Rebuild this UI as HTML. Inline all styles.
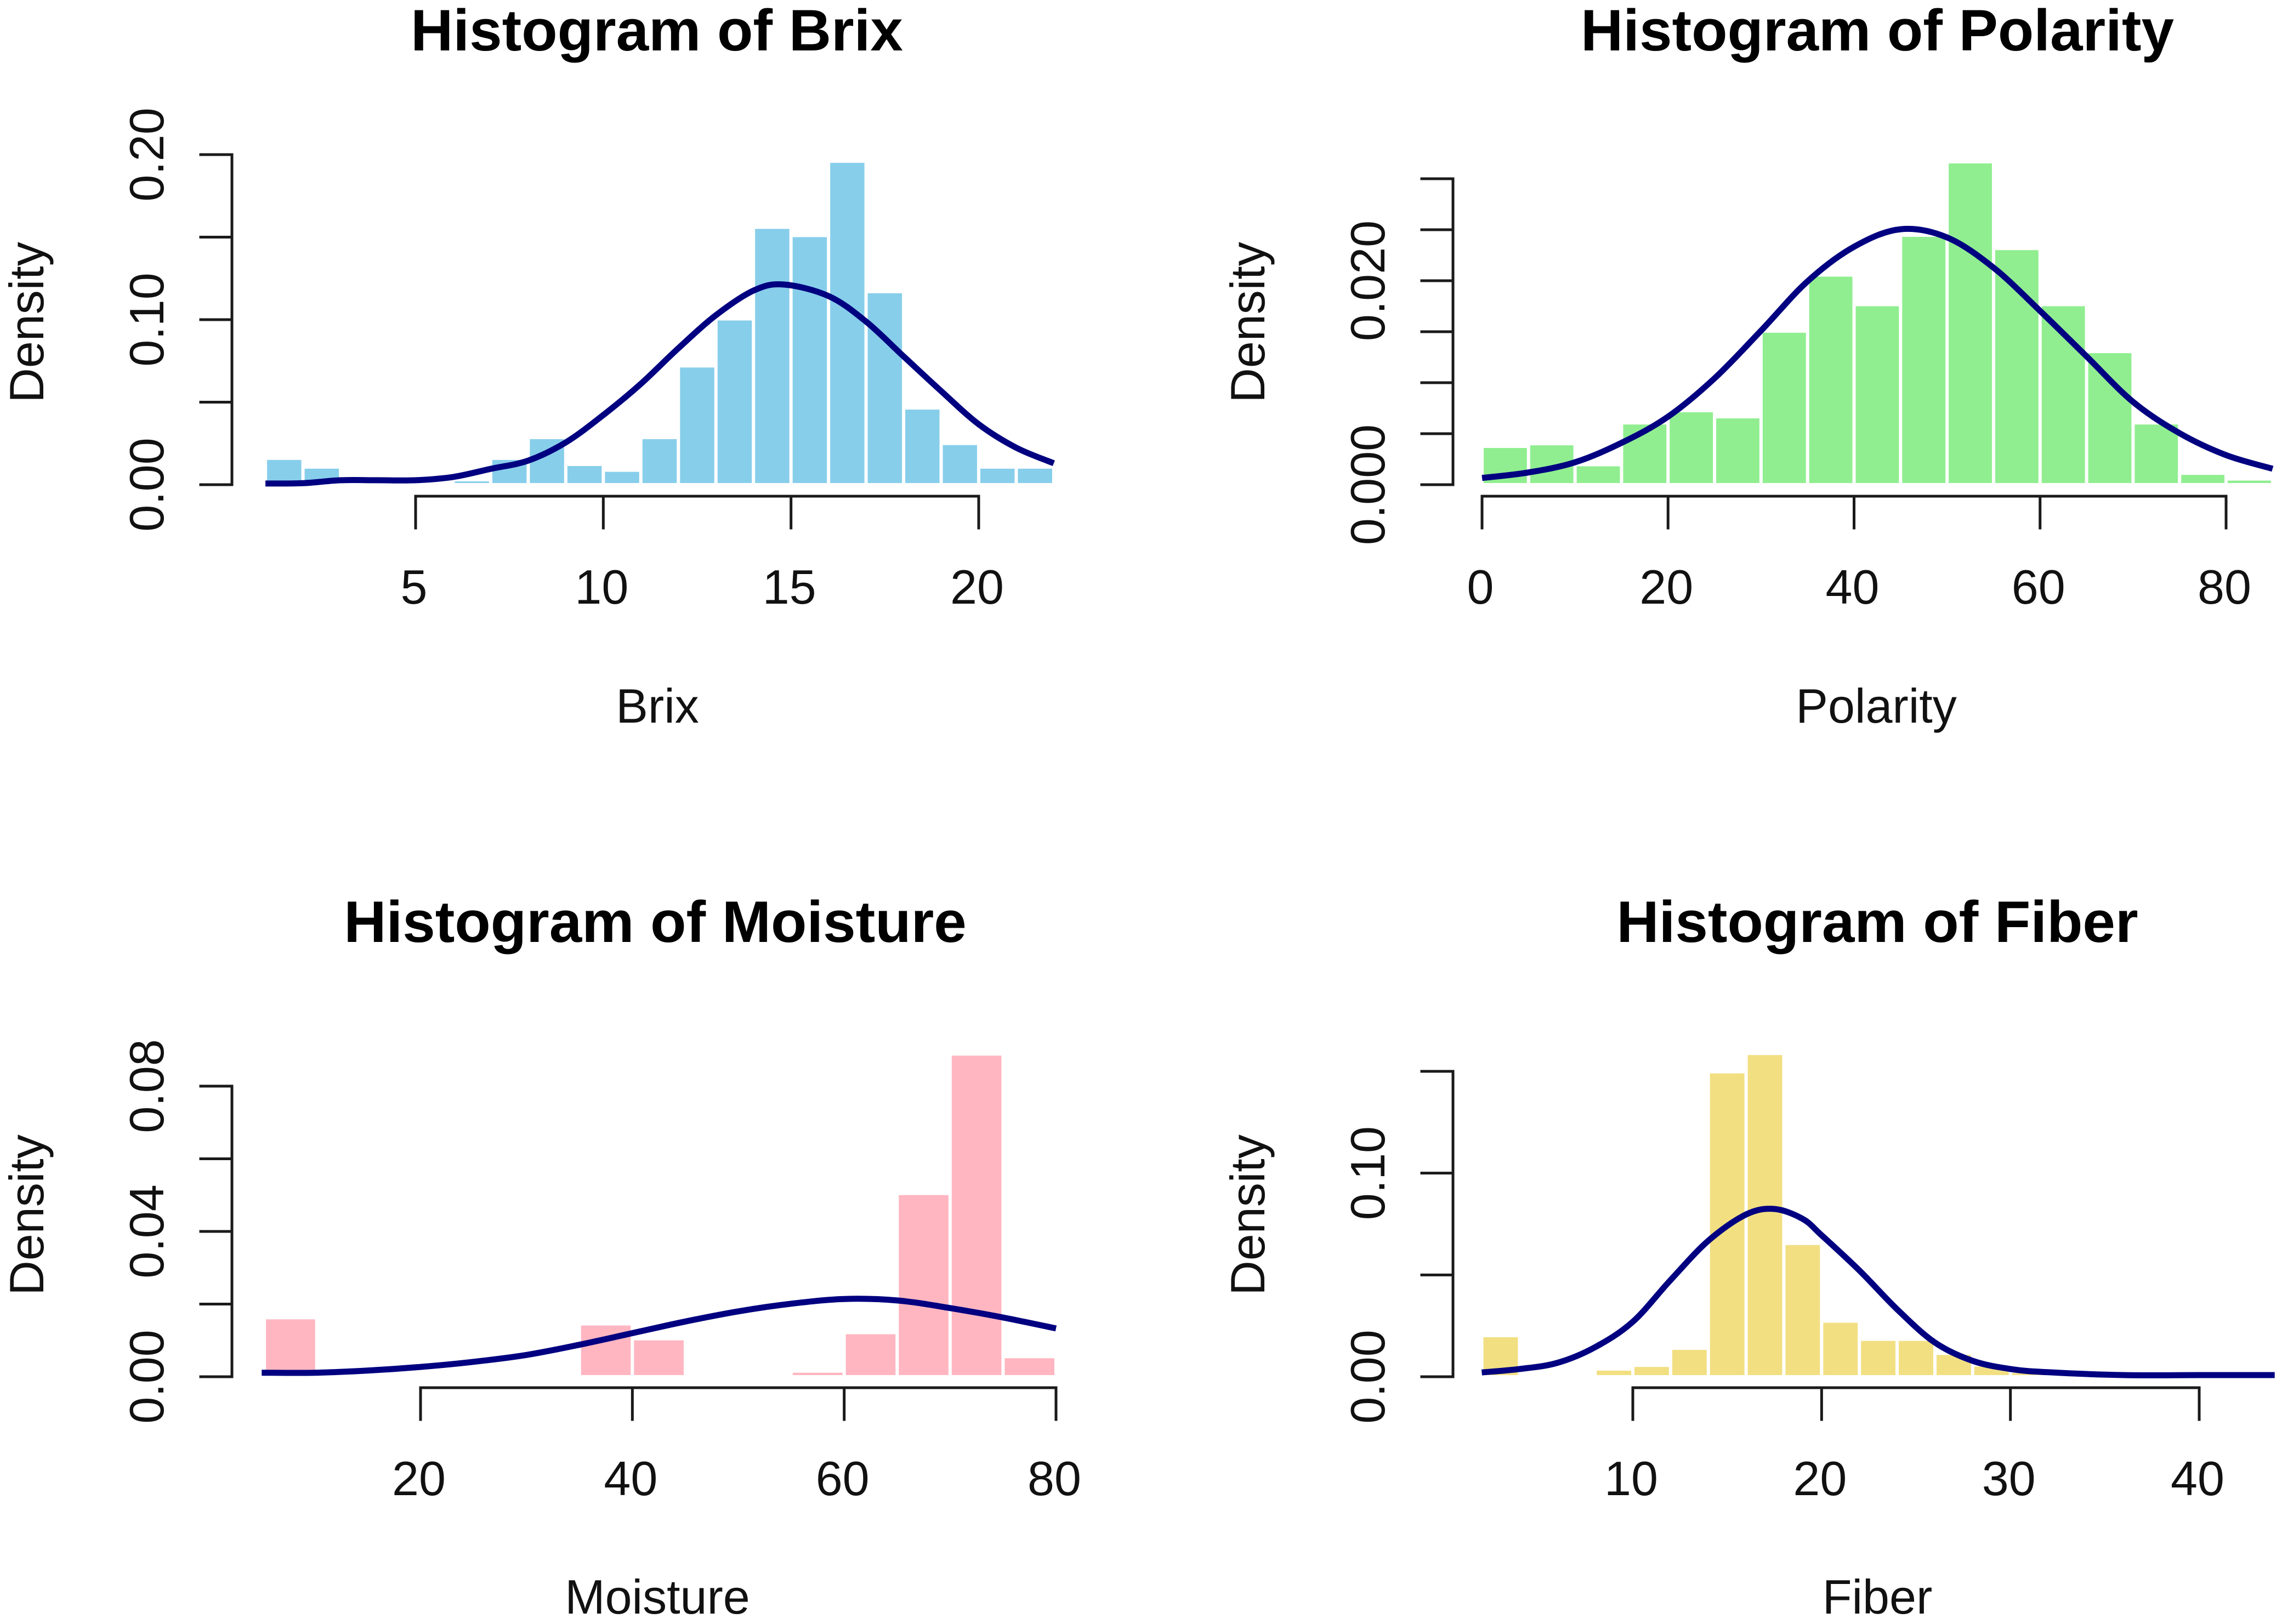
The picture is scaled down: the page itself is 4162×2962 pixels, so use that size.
<!DOCTYPE html>
<html lang="en">
<head>
<meta charset="utf-8">
<title>Histograms of Brix, Polarity, Moisture and Fiber</title>
<style>
html,body{margin:0;padding:0;background:#fff;}
svg{display:block;}
text{font-family:"Liberation Sans",Arial,sans-serif;fill:#111;}
.title{font-size:107px;font-weight:bold;text-anchor:middle;fill:#000;}
.lab{font-size:88px;text-anchor:middle;}
</style>
</head>
<body>
<svg id="chart" xmlns="http://www.w3.org/2000/svg" width="4162" height="2962" viewBox="0 0 4162 2962">
<rect width="4162" height="2962" fill="#ffffff"/>

<g id="panel-brix">
<text class="title" x="1198" y="92">Histogram of Brix</text>
<text class="lab" x="1199" y="1318">Brix</text>
<text class="lab" transform="translate(79 588) rotate(-90)">Density</text>
</g>

<g id="panel-polarity">
<text class="title" x="3424" y="92">Histogram of Polarity</text>
<text class="lab" x="3422" y="1318">Polarity</text>
<text class="lab" transform="translate(2306 588) rotate(-90)">Density</text>
</g>

<g id="panel-moisture">
<text class="title" x="1195" y="1718">Histogram of Moisture</text>
<text class="lab" x="1199" y="2943">Moisture</text>
<text class="lab" transform="translate(79 2216) rotate(-90)">Density</text>
</g>

<g id="panel-fiber">
<text class="title" x="3424" y="1718">Histogram of Fiber</text>
<text class="lab" x="3424" y="2943">Fiber</text>
<text class="lab" transform="translate(2306 2216) rotate(-90)">Density</text>
</g>
</svg>

<script>
// ---- Brix data ----
const brixEdges = [1,2,3,4,5,6,7,8,9,10,11,12,13,14,15,16,17,18,19,20,21,22];
const brixDensity = [0.015,0.0097,0,0,0,0.002,0.015,0.0276,0.0113,0.0078,0.0276,0.071,0.0995,0.155,0.15,0.195,0.116,0.0455,0.024,0.0097,0.0097];
const brixCurveX = [1,2,3,4,5,6,7,8,9,10,11,12,13,14,14.8,16,17,18,19,20,21,22];
const brixCurveY = [0.0007,0.0009,0.0027,0.0027,0.0027,0.0047,0.0096,0.0146,0.0256,0.0422,0.0611,0.0827,0.1027,0.1176,0.1213,0.1143,0.0988,0.0777,0.0567,0.0366,0.0224,0.013];
const brixXTicks = [5,10,15,20];
const brixXLabels = ["5","10","15","20"];
const brixYTicks = [0,0.05,0.10,0.15,0.20];
const brixYLabelValues = [0,0.10,0.20];
const brixYLabels = ["0.00","0.10","0.20"];

// ---- Polarity data ----
const polarityEdges = [0,5,10,15,20,25,30,35,40,45,50,55,60,65,70,75,80,85];
const polarityDensity = [0.0036,0.00386,0.0018,0.0059,0.0071,0.0065,0.0149,0.0204,0.0175,0.0243,0.0315,0.023,0.0175,0.0129,0.0059,0.00096,0.0004];
const polarityCurveX = [0,5,10,15,20,25,30,35,40,45,50,55,60,65,70,75,80,85];
const polarityCurveY = [0.00066,0.0012,0.0022,0.0041,0.00667,0.01043,0.0151,0.01994,0.02333,0.02505,0.02424,0.02128,0.01704,0.01258,0.00812,0.00505,0.0029,0.00156];
const polarityXTicks = [0,20,40,60,80];
const polarityXLabels = ["0","20","40","60","80"];
const polarityYTicks = [0,0.005,0.010,0.015,0.020,0.025,0.030];
const polarityYLabelValues = [0,0.020];
const polarityYLabels = ["0.000","0.020"];

// ---- Moisture data ----
const moistureEdges = [5.25,10.2,15,20,25,30,35,40,45,50,55,60,65,70,75,80];
const moistureDensity = [0.0158,0,0,0,0,0,0.0141,0.01,0,0,0.0011,0.0117,0.05,0.0884,0.0051];
const moistureCurveX = [5,10,15,20,25,30,35,40,45,50,55,60,65,70,75,80];
const moistureCurveY = [0.0011,0.0011,0.0017,0.0027,0.0041,0.006,0.0088,0.012,0.0152,0.018,0.0201,0.0214,0.021,0.0189,0.0163,0.0133];
const moistureXTicks = [20,40,60,80];
const moistureXLabels = ["20","40","60","80"];
const moistureYTicks = [0,0.02,0.04,0.06,0.08];
const moistureYLabelValues = [0,0.04,0.08];
const moistureYLabels = ["0.00","0.04","0.08"];

// ---- Fiber data ----
const fiberEdges = [2,4,6,8,10,12,14,16,18,20,22,24,26,28,30,32];
const fiberDensity = [0.0194,0,0,0.003,0.0048,0.0132,0.149,0.158,0.0647,0.0265,0.0176,0.0176,0.0107,0.005,0.0018];
const fiberCurveX = [2,4,6,8,10,12,14,16,17.5,19,20,22,24,26,28,30,32,36,40,44];
const fiberCurveY = [0.0021,0.0038,0.0068,0.0145,0.027,0.0475,0.0668,0.0797,0.0824,0.0775,0.0695,0.0522,0.0331,0.0168,0.0078,0.0038,0.0022,0.0008,0.0008,0.0008];
const fiberXTicks = [10,20,30,40];
const fiberXLabels = ["10","20","30","40"];
const fiberYTicks = [0,0.05,0.10,0.15];
const fiberYLabelValues = [0,0.10];
const fiberYLabels = ["0.00","0.10"];

const NS = "http://www.w3.org/2000/svg";

function linearScale(d0, d1, p0, p1) {
  return function (v) { return p0 + (v - d0) * (p1 - p0) / (d1 - d0); };
}

function smoothPath(px, py) {
  let d = "M" + px[0].toFixed(1) + " " + py[0].toFixed(1);
  for (let i = 0; i < px.length - 1; i++) {
    const i0 = Math.max(0, i - 1), i3 = Math.min(px.length - 1, i + 2);
    const c1x = px[i] + (px[i + 1] - px[i0]) / 6;
    const c1y = py[i] + (py[i + 1] - py[i0]) / 6;
    const c2x = px[i + 1] - (px[i3] - px[i]) / 6;
    const c2y = py[i + 1] - (py[i3] - py[i]) / 6;
    d += "C" + c1x.toFixed(1) + " " + c1y.toFixed(1) + " " + c2x.toFixed(1) + " " + c2y.toFixed(1) + " " + px[i + 1].toFixed(1) + " " + py[i + 1].toFixed(1);
  }
  return d;
}

function addLine(parent, x1, y1, x2, y2) {
  const el = document.createElementNS(NS, "line");
  el.setAttribute("x1", x1);
  el.setAttribute("y1", y1);
  el.setAttribute("x2", x2);
  el.setAttribute("y2", y2);
  el.setAttribute("stroke", "#1a1a1a");
  el.setAttribute("stroke-width", "5");
  el.setAttribute("stroke-linecap", "square");
  parent.appendChild(el);
  return el;
}

function drawPanel(p) {
  const g = document.getElementById(p.id);
  const x = p.x, y = p.y;
  const base = y(0);

  // bars
  p.density.forEach(function (v, i) {
    if (v <= 0) return;
    const r = document.createElementNS(NS, "rect");
    
    
    r.setAttribute("x", x(p.edges[i]) + 3);
    r.setAttribute("width", Math.max(1, x(p.edges[i + 1]) - x(p.edges[i]) - 6));
    r.setAttribute("y", y(v));
    r.setAttribute("height", Math.max(1, base - 3 - y(v)));
    r.setAttribute("fill", p.fill);
    g.appendChild(r);
  });

  // density curve
  const curve = document.createElementNS(NS, "path");
  
  
  curve.setAttribute("d", smoothPath(p.curveX.map(x), p.curveY.map(y)));
  curve.setAttribute("fill", "none");
  curve.setAttribute("stroke", "#000080");
  curve.setAttribute("stroke-width", "11");
  curve.setAttribute("stroke-linejoin", "round");
  g.appendChild(curve);

  // x axis
  const xa = document.createElementNS(NS, "g");
  
  
  g.appendChild(xa);
  addLine(xa, x(p.xTicks[0]), p.axisY, x(p.xTicks[p.xTicks.length - 1]), p.axisY);
  p.xTicks.forEach(function (t, i) {
    const tick = addLine(xa, x(t), p.axisY, x(t), p.axisY + 58);
    
    
    const label = document.createElementNS(NS, "text");
    
    
    label.setAttribute("class", "lab");
    label.setAttribute("x", x(t) - 3);
    label.setAttribute("y", p.axisY + 196);
    label.textContent = p.xLabels[i];
    xa.appendChild(label);
  });

  // y axis
  const ya = document.createElementNS(NS, "g");
  
  
  g.appendChild(ya);
  addLine(ya, p.axisX, y(p.yTicks[0]), p.axisX, y(p.yTicks[p.yTicks.length - 1]));
  p.yTicks.forEach(function (t) {
    const tick = addLine(ya, p.axisX, y(t), p.axisX - 57, y(t));
    
    
  });
  p.yLabelValues.forEach(function (t, i) {
    const label = document.createElementNS(NS, "text");
    
    
    label.setAttribute("class", "lab");
    label.setAttribute("transform", "translate(" + (p.axisX - 125) + " " + y(t) + ") rotate(-90)");
    label.textContent = p.yLabels[i];
    ya.appendChild(label);
  });
}

drawPanel({
  id: "panel-brix", fill: "#87CEEB", axisX: 423, axisY: 905,
  x: linearScale(5, 20, 758, 1785), y: linearScale(0, 0.20, 884, 282),
  edges: brixEdges, density: brixDensity, curveX: brixCurveX, curveY: brixCurveY,
  xTicks: brixXTicks, xLabels: brixXLabels, yTicks: brixYTicks,
  yLabelValues: brixYLabelValues, yLabels: brixYLabels
});
drawPanel({
  id: "panel-polarity", fill: "#90EE90", axisX: 2650, axisY: 905,
  x: linearScale(0, 80, 2703, 4060), y: linearScale(0, 0.030, 884, 326),
  edges: polarityEdges, density: polarityDensity, curveX: polarityCurveX, curveY: polarityCurveY,
  xTicks: polarityXTicks, xLabels: polarityXLabels, yTicks: polarityYTicks,
  yLabelValues: polarityYLabelValues, yLabels: polarityYLabels
});
drawPanel({
  id: "panel-moisture", fill: "#FFB6C1", axisX: 423, axisY: 2531,
  x: linearScale(20, 80, 767, 1926), y: linearScale(0, 0.08, 2511, 1981),
  edges: moistureEdges, density: moistureDensity, curveX: moistureCurveX, curveY: moistureCurveY,
  xTicks: moistureXTicks, xLabels: moistureXLabels, yTicks: moistureYTicks,
  yLabelValues: moistureYLabelValues, yLabels: moistureYLabels
});
drawPanel({
  id: "panel-fiber", fill: "#F2DF82", axisX: 2650, axisY: 2531,
  x: linearScale(10, 40, 2978, 4011), y: linearScale(0, 0.15, 2511, 1954),
  edges: fiberEdges, density: fiberDensity, curveX: fiberCurveX, curveY: fiberCurveY,
  xTicks: fiberXTicks, xLabels: fiberXLabels, yTicks: fiberYTicks,
  yLabelValues: fiberYLabelValues, yLabels: fiberYLabels
});
</script>
</body>
</html>
